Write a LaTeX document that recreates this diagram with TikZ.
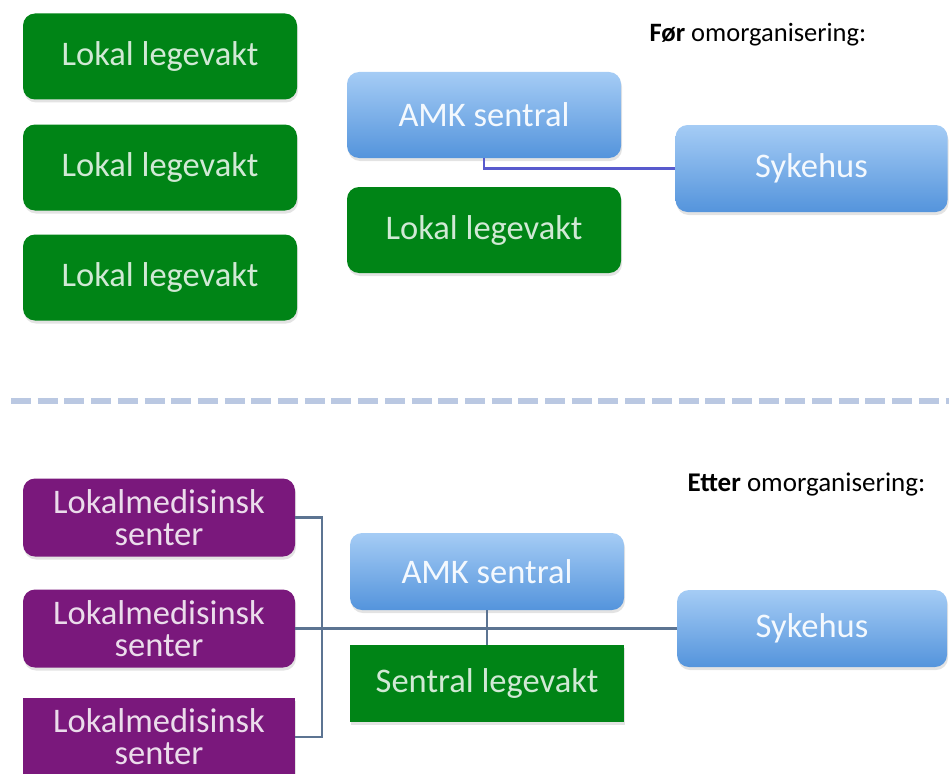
\documentclass[tikz,border=0pt]{standalone}
\usepackage{fontspec}
\setmainfont{Carlito}
\usetikzlibrary{shadows}
\usetikzlibrary{positioning}
\definecolor{boxgreen}{RGB}{0,132,22}
\definecolor{boxpurple}{RGB}{122,24,124}
\definecolor{boxbluetop}{RGB}{165,204,245}
\definecolor{boxbluebot}{RGB}{84,148,220}
\definecolor{linkblue}{RGB}{88,90,205}
\definecolor{linkgrey}{RGB}{92,116,146}
\definecolor{sepblue}{RGB}{186,200,226}

\begin{document}
\begin{tikzpicture}[x=1pt,y=-1pt,
  box/.style={rectangle,rounded corners=12pt,minimum width=274pt,minimum height=86pt,align=center,font=\fontsize{34.5}{32}\selectfont,drop shadow={opacity=0.22,shadow xshift=1pt,shadow yshift=-3pt}},
  lv/.style={box,fill=boxgreen,text=white!82!boxgreen},
  amk/.style={box,top color=boxbluetop,bottom color=boxbluebot,text=white!88!boxbluetop},
  lm/.style={box,fill=boxpurple,text=white!85!boxpurple,minimum width=272pt,minimum height=78pt},
  link/.style={line width=2.5pt}]
\useasboundingbox (0,0) rectangle (949,773);

% foer omorganisering
\node[lv] (lv1) at (160,56.5) {Lokal legevakt};
\node[lv] (lv2) at (160,167.5) {Lokal legevakt};
\node[lv] (lv3) at (160,277.5) {Lokal legevakt};
\node[amk] (amkA) at (484,115) {AMK sentral};
\node[lv] (lvA) at (484,230) {Lokal legevakt};
\node[amk,minimum width=272pt,minimum height=87pt] (sykA) at (811.5,168.5) {Sykehus};
\draw[link,linkblue] (amkA.south) |- (sykA.west);
\node[anchor=west,font=\fontsize{26.5}{26.5}\selectfont] (foer) at (646,35) {\textbf{Før} omorganisering:};

\draw[sepblue,line width=6.7pt,dash pattern=on 20pt off 6.7pt] (11,401) -- (949,401);

% etter omorganisering
\node[lm] (lm1) at (159,517.5) {Lokalmedisinsk\\senter};
\node[lm] (lm2) at (159,628.5) {Lokalmedisinsk\\senter};
\node[lm,sharp corners] (lm3) at (159,737) {Lokalmedisinsk\\senter};
\node[amk,minimum height=77pt] (amkB) at (487,571.5) {AMK sentral};
\node[lv,sharp corners,minimum height=77pt] (slv) at (487,683.5) {Sentral legevakt};
\node[amk,minimum width=270pt,minimum height=77pt] (sykB) at (812,628.5) {Sykehus};
\coordinate (brk) at (322,0);
\draw[link,linkgrey] (lm1.east) -- (lm1.east -| brk) -- (lm3.east -| brk) -- (lm3.east);
\draw[link,linkgrey] (lm2.east) -- (sykB.west);
\draw[link,linkgrey] (amkB.south) -- (slv.north);
\node[anchor=west,font=\fontsize{27}{27}\selectfont] (etter) at (684,485) {\textbf{Etter} omorganisering:};

\end{tikzpicture}
\end{document}
